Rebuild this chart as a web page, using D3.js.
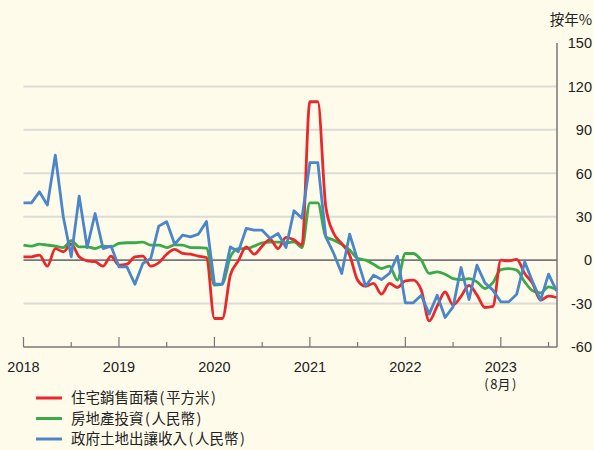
<!DOCTYPE html>
<html lang="zh-Hant">
<head>
<meta charset="UTF-8">
<title>住宅銷售、房地產投資及土地出讓收入</title>
<script src="https://cdn.jsdelivr.net/npm/d3@7"></script>
<style>
  html, body { margin: 0; padding: 0; background: #fefbeb; }
  svg { display: block; }
  .num { font-family: "Liberation Sans", Arial, sans-serif; font-size: 14.5px; fill: #222; }
  .cjk { font-family: "Noto Sans CJK TC", sans-serif; font-size: 14.5px; fill: #222; }
</style>
</head>
<body>
<svg id="chart" width="594" height="450"></svg>
<script>
// 2018年1月 - 2023年8月, 按年%
const years = ["2018", "2019", "2020", "2021", "2022", "2023"];
const yTicks = [150, 120, 90, 60, 30, 0, -30, -60];

const sales = [
  2.3, 2.3, 3.5, -4.1, 8, 5.8, 11, 2.3, -0.5, -1.1, -4.1, 2.8,
  -3.5, -2.8, 2.3, 2.8, -4.1, -1.8, 4.1, 7.4, 4.6, 4.1, 2.8, 1.8,
  -40.3, -40.3, -10.4, -0.5, 9.2, 4.1, 9.7, 14.3, 8, 15.7, 14, 10.4,
  109.4, 109.4, 36.9, 18.4, 11.5, 3.5, -13.8, -18, -16.1, -23.5, -16.1, -18.9,
  -14.3, -13.8, -20.7, -42, -31.8, -22, -31, -25, -17.5, -24, -32.7, -32,
  0, -0.5, 0.5, -9.2, -16.1, -27.6, -24.9, -25.8
];
const invest = [
  10.4, 9.7, 11, 10.4, 9.7, 8.7, 13.4, 9.2, 9.2, 8, 9.7, 9.2,
  11.5, 12, 12, 12.4, 10.4, 10.4, 8.7, 10.6, 10.4, 8.7, 8.7, 8.3,
  -17.3, -16.6, 2.3, 8, 8, 9.7, 12, 12.4, 12.4, 12, 12.7, 8.7,
  39.6, 39.6, 16.1, 13.8, 11, 6.9, 1.2, 0, -2.8, -5.8, -4.1, -13.8,
  4.6, 4.6, 0, -9.2, -8.1, -9.7, -12.7, -13.4, -12.7, -15, -19.6, -15.5,
  -6.5, -5.8, -6.9, -15, -21.2, -22.6, -18.4, -20.3
];
const land = [
  39.6, 39.6, 47.2, 38, 72.6, 30, 2.3, 44.2, 8.7, 32.2, 8, 9.7,
  -4.6, -4.6, -16.6, -2.3, 1.2, 23.5, 26.5, 11, 17.3, 16.1, 18, 26.7,
  -16.6, -16.6, 9.2, 5.8, 21.9, 20.7, 20.7, 15, 18.4, 8.7, 34.1, 29,
  67.3, 67.3, 16.1, 4.6, -9.2, 18, 0, -18, -10.4, -13.4, -9.2, 2.8,
  -29.5, -29.5, -24.2, -37.3, -24.2, -39.6, -32.3, -5.1, -27.2, -3.5, -15.7, -20.7,
  -28.8, -28.8, -23.5, -1.2, -15, -27.6, -9.7, -21.2
];

const seriesNames = ["住宅銷售面積(平方米)", "房地產投資(人民幣)", "政府土地出讓收入(人民幣)"];
const colors = ["#e8282b", "#3aaa48", "#4a86c8"];

const svg = d3.select("#chart");
const plotLeft = 23.5, plotRight = 556.5, plotTop = 43, plotBottom = 347;

const x = d3.scaleLinear().domain([0, sales.length - 1]).range([plotLeft, plotRight]);
const y = d3.scaleLinear().domain([-60, 150]).range([plotBottom, plotTop]);

// 括號前後留點空位, 原圖的括號較寬
function withParens(sel, str) {
  const m = str.match(/^(.*)\((.*)\)$/);
  if (!m) { sel.text(str); return; }
  sel.append("tspan").text(m[1]);
  sel.append("tspan").attr("dx", 1.5).text("(");
  sel.append("tspan").attr("dx", 1.5).text(m[2]);
  sel.append("tspan").attr("dx", 1.5).text(")");
}

// 網格線
svg.append("g").selectAll("line")
  .data(yTicks.filter(d => d !== 0 && d !== 150 && d !== -60))
  .enter().append("line")
  .attr("x1", plotLeft).attr("x2", plotRight + 0.5)
  .attr("y1", d => y(d)).attr("y2", d => y(d))
  .attr("stroke", "#dcdcd6").attr("stroke-width", 2);

svg.append("line")
  .attr("x1", plotLeft).attr("x2", plotRight + 0.5)
  .attr("y1", y(0)).attr("y2", y(0))
  .attr("stroke", "#777").attr("stroke-width", 1.6);

// 右軸
svg.append("line")
  .attr("x1", plotRight + 0.5).attr("x2", plotRight + 0.5)
  .attr("y1", plotTop).attr("y2", plotBottom)
  .attr("stroke", "#777").attr("stroke-width", 1.5);

svg.append("g").selectAll("text")
  .data(yTicks)
  .enter().append("text")
  .attr("class", "num")
  .attr("x", 592).attr("y", d => y(d))
  .attr("dy", "0.36em")
  .attr("text-anchor", "end")
  .text(d => d);

svg.append("text")
  .attr("class", "cjk")
  .attr("x", 592).attr("y", 25)
  .attr("text-anchor", "end")
  .text("按年%");

// 底軸
svg.append("line")
  .attr("x1", plotLeft).attr("x2", plotRight + 0.5)
  .attr("y1", plotBottom).attr("y2", plotBottom)
  .attr("stroke", "#777").attr("stroke-width", 1.5);

const tickIdx = d3.range(0, sales.length, 6);
svg.append("g").selectAll("line")
  .data(tickIdx)
  .enter().append("line")
  .attr("x1", d => x(d)).attr("x2", d => x(d))
  .attr("y1", plotBottom).attr("y2", d => d % 12 === 0 ? plotBottom - 10 : plotBottom - 5)
  .attr("stroke", "#777").attr("stroke-width", 1.2);

svg.append("g").selectAll("text")
  .data(years)
  .enter().append("text")
  .attr("class", "num")
  .attr("x", (d, i) => x(i * 12)).attr("y", 372)
  .attr("text-anchor", "middle")
  .text(d => d);

svg.append("text")
  .attr("class", "cjk")
  .attr("x", x(60) - 2).attr("y", 389)
  .attr("text-anchor", "middle")
  .style("font-size", "13px")
  .call(withParens, "(8月)");

// 線條
const smooth = d3.line().x((d, i) => x(i)).y(d => y(d)).curve(d3.curveMonotoneX);
const straight = d3.line().x((d, i) => x(i)).y(d => y(d));

const lines = [
  { data: invest, color: colors[1], gen: smooth },
  { data: sales, color: colors[0], gen: smooth },
  { data: land, color: colors[2], gen: straight }
];

svg.append("g").selectAll("path")
  .data(lines)
  .enter().append("path")
  .attr("d", d => d.gen(d.data))
  .attr("fill", "none")
  .attr("stroke", d => d.color)
  .attr("stroke-width", 2.8)
  .attr("stroke-linejoin", "round");

// 圖例
const legend = svg.append("g").selectAll("g")
  .data(seriesNames)
  .enter().append("g")
  .attr("transform", (d, i) => `translate(0,${398 + i * 20.5})`);

legend.append("line")
  .attr("x1", 36).attr("x2", 62)
  .attr("stroke", (d, i) => colors[i])
  .attr("stroke-width", 3);

legend.append("text")
  .attr("class", "cjk")
  .attr("x", 71).attr("dy", "0.36em")
  .each(function(d) { withParens(d3.select(this), d); });
</script>
</body>
</html>
